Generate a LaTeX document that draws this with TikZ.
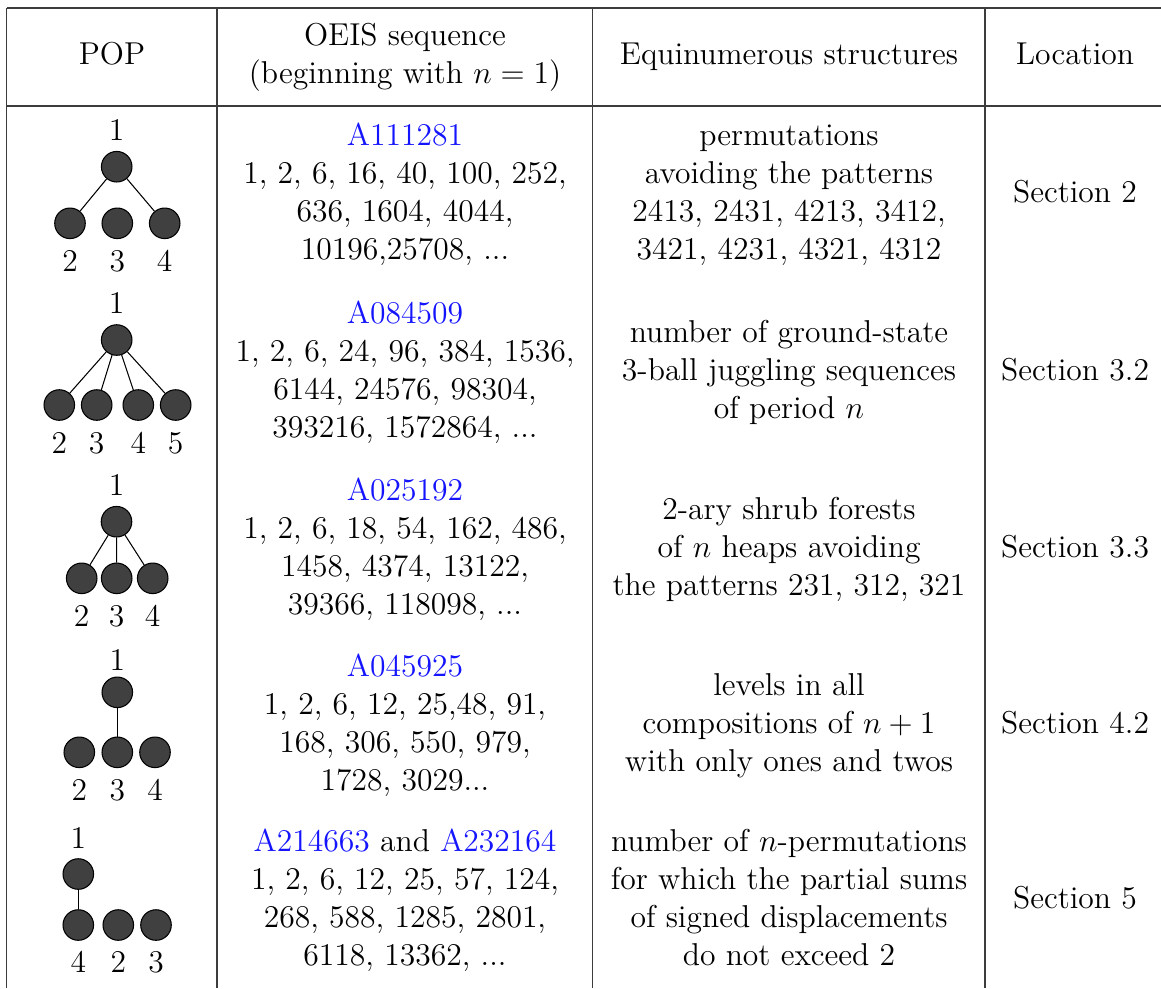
\documentclass[tikz,border=0pt]{standalone}
\usepackage{tikz}
\definecolor{linkblue}{RGB}{20,20,255}
\definecolor{nodegray}{RGB}{64,64,64}
\definecolor{rulegray}{RGB}{60,60,60}
\begin{document}
\begin{tikzpicture}[x=0.3795pt,y=-0.3795pt,
  cell/.style={inner sep=0pt, outer sep=0pt, align=center, font=\fontsize{12}{14.5}\selectfont},
  lbl/.style={inner sep=0pt, outer sep=0pt, anchor=base, font=\fontsize{12}{14.5}\selectfont},
  vtx/.style={circle, draw=black, fill=nodegray, line width=0.4pt, minimum size=11.6pt, inner sep=0pt},
  edge/.style={draw=black, line width=0.4pt},
  rule/.style={draw=rulegray, line width=0.5pt}]
\useasboundingbox (0,0) rectangle (1161,988);
% table rules
\coordinate (tl) at (6.7,8);
\coordinate (tr) at (1161,8);
\coordinate (hl) at (6.7,106);
\coordinate (hr) at (1161,106);
\coordinate (bl) at (6.7,988);
\coordinate (s1t) at (217,8);
\coordinate (s1b) at (217,988);
\coordinate (s2t) at (592.7,8);
\coordinate (s2b) at (592.7,988);
\coordinate (s3t) at (985,8);
\coordinate (s3b) at (985,988);
\draw[rule] (tl) -- (tr);
\draw[rule] (hl) -- (hr);
\draw[rule] (tl) -- (bl);
\draw[rule] (s1t) -- (s1b);
\draw[rule] (s2t) -- (s2b);
\draw[rule] (s3t) -- (s3b);
% header
\node[cell] (hpop) at (112,57) {\strut POP};
\node[cell] (hoeis) at (405,57) {\strut OEIS sequence\\\strut(beginning with $n=1$)};
\node[cell] (heq) at (789,57) {\strut Equinumerous structures};
\node[cell] (hloc) at (1075,57) {\strut Location};
% row 1
\node[cell] (o1) at (405,194.7) {\strut\textcolor{linkblue}{A111281}\\\strut 1, 2, 6, 16, 40, 100, 252,\\\strut 636, 1604, 4044,\\\strut 10196,25708, ...};
\node[cell] (e1) at (789,194.7) {\strut permutations\\\strut avoiding the patterns\\\strut 2413, 2431, 4213, 3412,\\\strut 3421, 4231, 4321, 4312};
\node[cell] (l1) at (1075,194.7) {\strut Section 2};
% row 2
\node[cell] (o2) at (405,372.7) {\strut\textcolor{linkblue}{A084509}\\\strut 1, 2, 6, 24, 96, 384, 1536,\\\strut 6144, 24576, 98304,\\\strut 393216, 1572864, ...};
\node[cell] (e2) at (789,372.7) {\strut number of ground-state\\\strut 3-ball juggling sequences\\\strut of period $n$};
\node[cell] (l2) at (1075,372.7) {\strut Section 3.2};
% row 3
\node[cell] (o3) at (405,549.7) {\strut\textcolor{linkblue}{A025192}\\\strut 1, 2, 6, 18, 54, 162, 486,\\\strut 1458, 4374, 13122,\\\strut 39366, 118098, ...};
\node[cell] (e3) at (789,549.7) {\strut 2-ary shrub forests\\\strut of $n$ heaps avoiding\\\strut the patterns 231, 312, 321};
\node[cell] (l3) at (1075,549.7) {\strut Section 3.3};
% row 4
\node[cell] (o4) at (405,725.7) {\strut\textcolor{linkblue}{A045925}\\\strut 1, 2, 6, 12, 25,48, 91,\\\strut 168, 306, 550, 979,\\\strut 1728, 3029...};
\node[cell] (e4) at (789,725.7) {\strut levels in all\\\strut compositions of $n+1$\\\strut with only ones and twos};
\node[cell] (l4) at (1075,725.7) {\strut Section 4.2};
% row 5
\node[cell] (o5) at (405,900.7) {\strut\textcolor{linkblue}{A214663} and \textcolor{linkblue}{A232164}\\\strut 1, 2, 6, 12, 25, 57, 124,\\\strut 268, 588, 1285, 2801,\\\strut 6118, 13362, ...};
\node[cell] (e5) at (789,900.7) {\strut number of $n$-permutations\\\strut for which the partial sums\\\strut of signed displacements\\\strut do not exceed 2};
\node[cell] (l5) at (1075,900.7) {\strut Section 5};
% tree 1
\node[vtx] (t1r) at (116.7,166.7) {};
\node[vtx] (t1a) at (70,223.3) {};
\node[vtx] (t1b) at (117.3,223.3) {};
\node[vtx] (t1c) at (164.7,223.3) {};
\node[lbl] (t1rl) at (116.7,140) {1};
\node[lbl] (t1al) at (70,271.7) {2};
\node[lbl] (t1bl) at (117.3,271.7) {3};
\node[lbl] (t1cl) at (164.7,271.7) {4};
\draw[edge] (t1r) -- (t1a);
\draw[edge] (t1r) -- (t1c);
% tree 2
\node[vtx] (t2r) at (116.7,340) {};
\node[vtx] (t2a) at (59.3,405) {};
\node[vtx] (t2b) at (96.7,405) {};
\node[vtx] (t2c) at (138.3,405) {};
\node[vtx] (t2d) at (175.7,405) {};
\node[lbl] (t2rl) at (116.7,313.3) {1};
\node[lbl] (t2al) at (59.3,453) {2};
\node[lbl] (t2bl) at (96.7,453) {3};
\node[lbl] (t2cl) at (138.3,453) {4};
\node[lbl] (t2dl) at (175.7,453) {5};
\draw[edge] (t2r) -- (t2a);
\draw[edge] (t2r) -- (t2b);
\draw[edge] (t2r) -- (t2c);
\draw[edge] (t2r) -- (t2d);
% tree 3
\node[vtx] (t3r) at (116.5,521.7) {};
\node[vtx] (t3a) at (81.7,578.3) {};
\node[vtx] (t3b) at (116.7,578.3) {};
\node[vtx] (t3c) at (152.7,578.3) {};
\node[lbl] (t3rl) at (116.5,495) {1};
\node[lbl] (t3al) at (81.7,626.7) {2};
\node[lbl] (t3bl) at (116.7,626.7) {3};
\node[lbl] (t3cl) at (152.7,626.7) {4};
\draw[edge] (t3r) -- (t3a);
\draw[edge] (t3r) -- (t3b);
\draw[edge] (t3r) -- (t3c);
% tree 4
\node[vtx] (t4r) at (117.3,692.3) {};
\node[vtx] (t4a) at (79.3,752.3) {};
\node[vtx] (t4b) at (117.3,752.3) {};
\node[vtx] (t4c) at (155,752.3) {};
\node[lbl] (t4rl) at (117.3,670) {1};
\node[lbl] (t4al) at (79.3,800) {2};
\node[lbl] (t4bl) at (117.3,800) {3};
\node[lbl] (t4cl) at (155,800) {4};
\draw[edge] (t4r) -- (t4b);
% tree 5
\node[vtx] (t5r) at (78.3,874) {};
\node[vtx] (t5a) at (78.3,925) {};
\node[vtx] (t5b) at (118.3,925) {};
\node[vtx] (t5c) at (156,925) {};
\node[lbl] (t5rl) at (78.3,848) {1};
\node[lbl] (t5al) at (78.3,972.5) {4};
\node[lbl] (t5bl) at (118.3,972.5) {2};
\node[lbl] (t5cl) at (156,972.5) {3};
\draw[edge] (t5r) -- (t5a);
\end{tikzpicture}
\end{document}
